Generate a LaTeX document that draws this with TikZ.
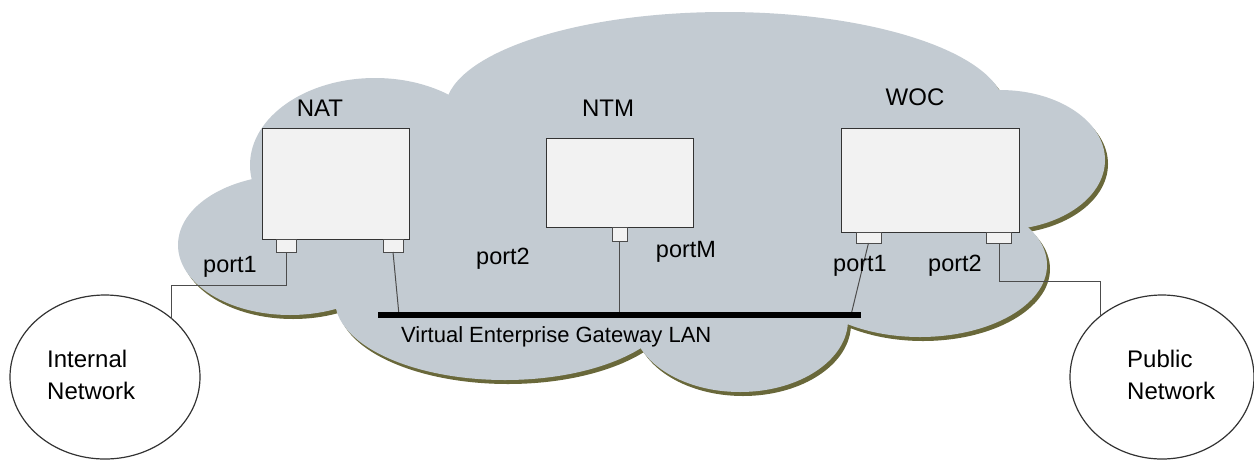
\documentclass[tikz,border=0pt]{standalone}
\usepackage{fontspec}
\setmainfont{Liberation Sans}
\usepackage{xcolor}
\usepackage{tikz}
\usetikzlibrary{shapes.geometric}

\definecolor{cloudgray}{RGB}{195,203,210}
\definecolor{cloudshade}{RGB}{105,104,58}
\definecolor{boxfill}{RGB}{242,242,242}

\begin{document}
\begin{tikzpicture}[
  x=1pt, y=-1pt,
  box/.style={draw=black!80, fill=boxfill, line width=1pt, inner sep=0pt, outer sep=0pt},
  port/.style={draw=black!70, fill=boxfill, line width=0.9pt, inner sep=0pt, outer sep=0pt, anchor=north},
  title/.style={font=\fontsize{24}{28}\selectfont, inner sep=0pt},
  portlabel/.style={font=\fontsize{23.5}{28}\selectfont, anchor=base, inner sep=0pt},
  net/.style={ellipse, draw=black!80, line width=1.2pt, minimum width=190pt, minimum height=164pt, inner sep=0pt, outer sep=0pt},
  nettext/.style={font=\fontsize{24}{32}\selectfont, align=left, anchor=west, inner sep=0pt},
  wire/.style={draw=black!70, line width=1pt}
]
\useasboundingbox (0,0) rectangle (1254,459);

% cloud: shadow first, then the lobes
\foreach \cx/\cy/\rx/\ry in {725/110/280/98, 375/165/125/87, 290/245/112/70, 505/300/170/80,
    740/320/108/72, 920/265/127/72, 1000/160/105/70, 700/220/300/110}
  \fill[cloudshade] (\cx+3,\cy+4) ellipse [x radius=\rx pt, y radius=\ry pt];
\foreach \cx/\cy/\rx/\ry in {725/110/280/98, 375/165/125/87, 290/245/112/70, 505/300/170/80,
    740/320/108/72, 920/265/127/72, 1000/160/105/70, 700/220/300/110}
  \fill[cloudgray] (\cx,\cy) ellipse [x radius=\rx pt, y radius=\ry pt];

% boxes
\node[box, minimum width=147pt, minimum height=111pt] (nat) at (335.5,183.5) {};
\node[box, minimum width=147pt, minimum height=89pt] (ntm) at (619.5,182.5) {};
\node[box, minimum width=178pt, minimum height=104pt] (woc) at (930,180) {};
\node[title] (natlbl) at (320,108) {NAT};
\node[title] (ntmlbl) at (608,108) {NTM};
\node[title] (woclbl) at (915,97) {WOC};

% ports
\node[port, minimum width=20pt, minimum height=13pt] (nat1) at (286,239) {};
\node[port, minimum width=20pt, minimum height=13pt] (nat2) at (393,239) {};
\node[port, minimum width=15pt, minimum height=14pt] (ntmM) at (619.5,227) {};
\node[port, minimum width=25pt, minimum height=11pt] (woc1) at (868.5,232) {};
\node[port, minimum width=25pt, minimum height=11pt] (woc2) at (999,232) {};

% LAN
\coordinate (lanL) at (378,315);
\coordinate (lanR) at (861,315);
\coordinate (tapA) at (399,315);
\coordinate (tapB) at (619.5,315);
\coordinate (tapC) at (851,315);
\draw[wire] (nat2.south) -- (tapA);
\draw[wire] (ntmM.south) -- (tapB);
\draw[wire] (woc1.south) -- (tapC);
\draw[line width=6pt] (lanL) -- (lanR);
\node[font=\fontsize{22}{26}\selectfont, anchor=base west, inner sep=0pt] (lanlbl) at (401,342) {Virtual Enterprise Gateway LAN};

% outside networks
\node[net] (inet) at (105,377) {};
\node[net, minimum width=184pt] (pnet) at (1162,377) {};
\node[nettext] (inettxt) at (47,375) {Internal\\Network};
\node[nettext] (pnettxt) at (1127,375) {Public\\Network};
\draw[wire] (nat1.south) -- ++(0,33) -| (inet.41);
\draw[wire] (woc2.south) -- ++(0,38) -| (pnet.135);

% port names
\node[portlabel] (nat1lbl) at (230,272) {port1};
\node[portlabel] (nat2lbl) at (503,264) {port2};
\node[portlabel] (ntmMlbl) at (686,257) {portM};
\node[portlabel] (woc1lbl) at (860,271) {port1};
\node[portlabel] (woc2lbl) at (955,271) {port2};
\end{tikzpicture}
\end{document}
